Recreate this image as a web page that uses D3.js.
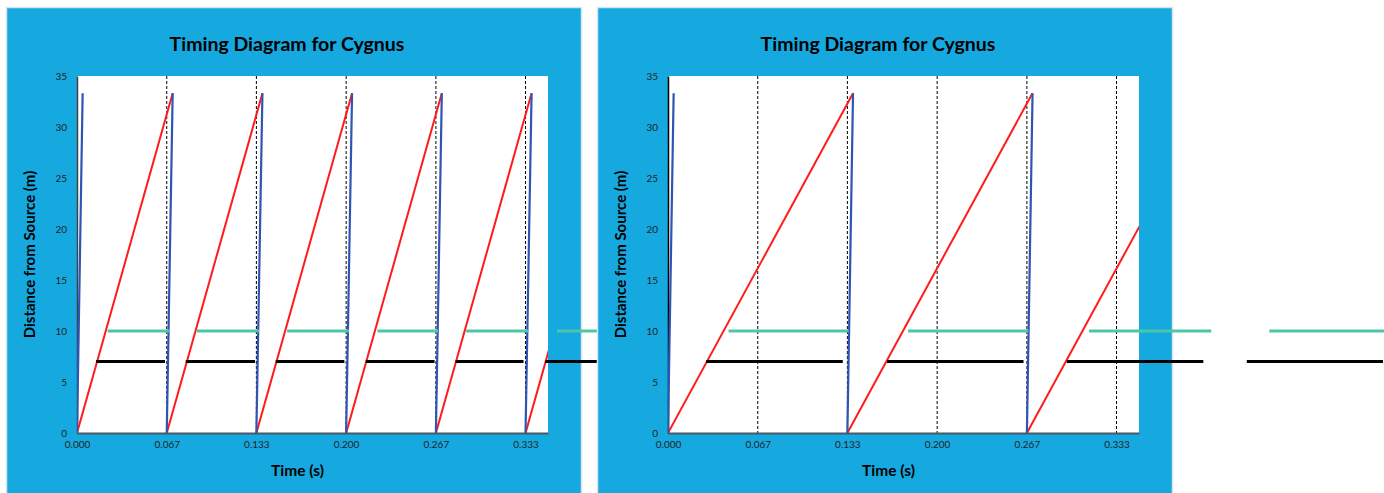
<!DOCTYPE html>
<html>
<head>
<meta charset="utf-8">
<script src="https://cdn.jsdelivr.net/npm/d3@7/dist/d3.min.js"></script>
<style>
  html, body { margin: 0; padding: 0; background: #ffffff; }
  svg { display: block; }
</style>
</head>
<body>
<svg id="chart" width="1384" height="493"></svg>
<script>
// ---------------- DATA ----------------
const chartTitle = "Timing Diagram for Cygnus";
const xAxisTitle = "Time (s)";
const yAxisTitle = "Distance from Source (m)";

const yTickValues = [0, 5, 10, 15, 20, 25, 30, 35];
const xTickValues = [0, 0.0667, 0.1333, 0.2, 0.2667, 0.3333];
const xTickLabels = ["0.000", "0.067", "0.133", "0.200", "0.267", "0.333"];
const gridTimes = [0.0667, 0.1333, 0.2, 0.2667, 0.3333];
const xMax = 0.35;
const yMax = 35;

const peakDistance = 33.3;
const blackLevel = 7;
const greenLevel = 10;

// Left chart (pulse every 0.0667 s)
const leftPulseStart = [0, 0.0667, 0.1333, 0.2, 0.2667, 0.3333];
const leftBlueEnd    = [0.0042, 0.0711, 0.1378, 0.2044, 0.2711, 0.3378];
const leftRedEnd     = [0.0711, 0.1378, 0.2044, 0.2711, 0.3378, 0.4044];
const leftBlackStart = [0.0141, 0.0808, 0.1477, 0.2146, 0.2813, 0.3480];
const leftBlackEnd   = [0.0654, 0.1323, 0.1987, 0.2657, 0.3318, 0.3990];
const leftGreenStart = [0.0228, 0.0890, 0.1561, 0.2233, 0.2892, 0.3566];
const leftGreenEnd   = [0.0689, 0.1353, 0.2022, 0.2682, 0.3355, 0.4030];

// Right chart (pulse every 0.1333 s)
const rightPulseStart = [0, 0.1333, 0.2667];
const rightBlueEnd    = [0.0042, 0.1375, 0.2709];
const rightRedEnd     = [0.1375, 0.2708, 0.4042];
const rightBlackStart = [0.0284, 0.1627, 0.2963, 0.4301];
const rightBlackEnd   = [0.1299, 0.2642, 0.3978, 0.5313];
const rightGreenStart = [0.0450, 0.1784, 0.3129, 0.4468];
const rightGreenEnd   = [0.1343, 0.2679, 0.4037, 0.5360];

// ---------------- DRAW ----------------
const svg = d3.select("#chart");
const defs = svg.append("defs");

const COLORS = {
  panel: "#15A9E0",
  panelBorder: "#D6E6EE",
  red: "#FF1B1B",
  blue: "#2F55B3",
  green: "#4DC6A6",
  black: "#000000"
};
const FONT = "Lato, 'Open Sans', 'DejaVu Sans', sans-serif";

function drawChart(cfg) {
  const { id, panelX, panelW, plotL, plotR, plotT, plotB, yAxisColor } = cfg;
  const g = svg.append("g");

  // panel background
  g.append("rect")
    .attr("x", panelX + 0.5).attr("y", 7.5)
    .attr("width", panelW).attr("height", 500)
    .attr("fill", COLORS.panel)
    .attr("stroke", COLORS.panelBorder).attr("stroke-width", 1.5);

  const x = d3.scaleLinear().domain([0, xMax]).range([plotL, plotR]);
  const y = d3.scaleLinear().domain([0, yMax]).range([plotB, plotT]);

  // plot area
  g.append("rect")
    .attr("x", plotL).attr("y", plotT)
    .attr("width", plotR - plotL).attr("height", plotB - plotT)
    .attr("fill", "#ffffff");

  defs.append("clipPath").attr("id", "clip-" + id)
    .append("rect")
    .attr("x", plotL).attr("y", plotT - 2)
    .attr("width", plotR - plotL).attr("height", plotB - plotT + 2);

  // title
  g.append("text")
    .attr("x", panelX + 281).attr("y", 51)
    .attr("text-anchor", "middle")
    .attr("font-family", FONT).attr("font-weight", "bold")
    .attr("font-size", 19.5).attr("fill", "#000")
    .text(chartTitle);

  // dashed grid lines
  g.append("g").selectAll("line").data(gridTimes).join("line")
    .attr("x1", d => x(d)).attr("x2", d => x(d))
    .attr("y1", plotT).attr("y2", plotB)
    .attr("stroke", "#000").attr("stroke-width", 1)
    .attr("stroke-dasharray", "3,2");

  // y axis
  const yAxis = g.append("g")
    .attr("transform", `translate(${plotL},0)`)
    .call(d3.axisLeft(y).tickValues(yTickValues).tickSize(0).tickPadding(10));
  yAxis.select(".domain").attr("stroke", yAxisColor).attr("stroke-width", 1.5);
  yAxis.selectAll("text")
    .attr("font-family", FONT).attr("font-size", 10).attr("fill", "#1f1f1f");

  // clipped series: red & blue
  const clipG = g.append("g").attr("clip-path", `url(#clip-${id})`);
  const pulses = cfg.pulseStart.map((s, i) => ({ s, blueEnd: cfg.blueEnd[i], redEnd: cfg.redEnd[i] }));
  const line = d3.line().x(d => x(d[0])).y(d => y(d[1]));

  clipG.selectAll("path.red").data(pulses).join("path")
    .attr("class", "red")
    .attr("d", d => line([[d.s, 0], [d.redEnd, peakDistance]]))
    .attr("fill", "none").attr("stroke", COLORS.red).attr("stroke-width", 2);

  clipG.selectAll("path.blue").data(pulses).join("path")
    .attr("class", "blue")
    .attr("d", d => line([[d.s, 0], [d.blueEnd, peakDistance]]))
    .attr("fill", "none").attr("stroke", COLORS.blue).attr("stroke-width", 2.2);

  // x axis
  const xAxis = g.append("g")
    .attr("transform", `translate(0,${plotB})`)
    .call(d3.axisBottom(x).tickValues(xTickValues).tickSize(0).tickPadding(8)
      .tickFormat((d, i) => xTickLabels[i]));
  xAxis.select(".domain").attr("stroke", "#4a5866").attr("stroke-width", 2);
  xAxis.selectAll("text")
    .attr("font-family", FONT).attr("font-size", 10).attr("fill", "#1f1f1f");

  // axis titles
  g.append("text")
    .attr("x", panelX + 291.5).attr("y", 476)
    .attr("text-anchor", "middle")
    .attr("font-family", FONT).attr("font-weight", "bold")
    .attr("font-size", 15.5).attr("fill", "#000")
    .text(xAxisTitle);

  g.append("text")
    .attr("transform", `translate(${plotL - 48},${(plotT + plotB) / 2}) rotate(-90)`)
    .attr("text-anchor", "middle")
    .attr("dominant-baseline", "central")
    .attr("font-family", FONT).attr("font-weight", "bold")
    .attr("font-size", 15).attr("fill", "#000")
    .text(yAxisTitle);

  // unclipped level segments (green & black)
  const greens = cfg.greenStart.map((s, i) => [s, cfg.greenEnd[i]]);
  const blacks = cfg.blackStart.map((s, i) => [s, cfg.blackEnd[i]]);

  g.append("g").selectAll("line").data(greens).join("line")
    .attr("x1", d => x(d[0])).attr("x2", d => x(d[1]))
    .attr("y1", y(greenLevel)).attr("y2", y(greenLevel))
    .attr("stroke", COLORS.green).attr("stroke-width", 3);

  g.append("g").selectAll("line").data(blacks).join("line")
    .attr("x1", d => x(d[0])).attr("x2", d => x(d[1]))
    .attr("y1", y(blackLevel)).attr("y2", y(blackLevel))
    .attr("stroke", COLORS.black).attr("stroke-width", 3);
}

drawChart({
  id: "left", panelX: 6, panelW: 575,
  plotL: 77, plotR: 548, plotT: 76, plotB: 433,
  yAxisColor: "#404040",
  pulseStart: leftPulseStart, blueEnd: leftBlueEnd, redEnd: leftRedEnd,
  blackStart: leftBlackStart, blackEnd: leftBlackEnd,
  greenStart: leftGreenStart, greenEnd: leftGreenEnd
});

drawChart({
  id: "right", panelX: 597, panelW: 575,
  plotL: 668, plotR: 1139, plotT: 76, plotB: 433,
  yAxisColor: "#000000",
  pulseStart: rightPulseStart, blueEnd: rightBlueEnd, redEnd: rightRedEnd,
  blackStart: rightBlackStart, blackEnd: rightBlackEnd,
  greenStart: rightGreenStart, greenEnd: rightGreenEnd
});
</script>
</body>
</html>
